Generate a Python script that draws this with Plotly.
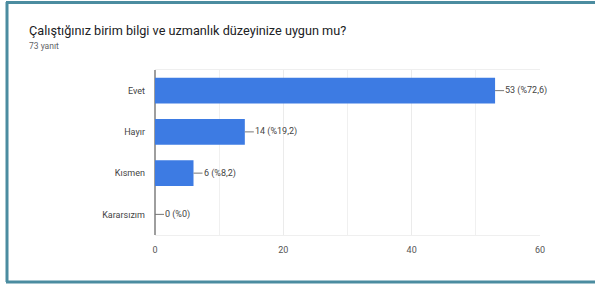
import plotly.graph_objects as go

categories = ["Evet", "Hayır", "Kısmen", "Kararsızım"]
counts = [53, 14, 6, 0]
labels = ["53 (%72,6)", "14 (%19,2)", "6 (%8,2)", "0 (%0)"]
x_ticks = [0, 20, 40, 60]

title_text = "Çalıştığınız birim bilgi ve uzmanlık düzeyinize uygun mu?"
subtitle_text = "73 yanıt"

W, H = 595, 284
PW, PH = 385, 165
ML, MT = 155, 70
MR = W - ML - PW
MB = H - MT - PH

def px_x(p):
    return (p - ML) / PW

def px_y(p):
    return (MT + PH - p) / PH

fig = go.Figure()
fig.add_trace(go.Bar(
    x=counts, y=categories, orientation="h",
    marker=dict(color="#3d7be3", line=dict(width=0)),
    hoverinfo="skip",
))

for c, v, t in zip(categories, counts, labels):
    fig.add_annotation(
        x=v, y=c, xref="x", yref="y", text=t,
        showarrow=True, arrowhead=0, arrowwidth=1, arrowcolor="#777",
        ax=9, ay=0, xanchor="left", standoff=0, startstandoff=0,
        font=dict(family="Roboto, Arial", size=9, color="#444"),
        borderpad=0,
    )

# title & subtitle
fig.add_annotation(x=px_x(27), y=px_y(30), xref="paper", yref="paper",
                   text=title_text, showarrow=False, xanchor="left", yanchor="middle",
                   font=dict(family="Roboto, Arial", size=12.7, color="#202124"))
fig.add_annotation(x=px_x(27), y=px_y(46), xref="paper", yref="paper",
                   text=subtitle_text, showarrow=False, xanchor="left", yanchor="middle",
                   font=dict(family="Roboto, Arial", size=8.5, color="#5f6368"))

# outer frame (left, top, bottom edges)
frame = dict(color="#4b8ca0", width=3)
fig.add_shape(type="line", xref="paper", yref="paper", x0=px_x(7), x1=px_x(7),
              y0=px_y(2), y1=px_y(282), line=frame)
fig.add_shape(type="line", xref="paper", yref="paper", x0=px_x(6), x1=px_x(595),
              y0=px_y(2.5), y1=px_y(2.5), line=frame)
fig.add_shape(type="line", xref="paper", yref="paper", x0=px_x(6), x1=px_x(595),
              y0=px_y(282), y1=px_y(282), line=frame)

fig.update_layout(
    width=W, height=H,
    margin=dict(l=ML, r=MR, t=MT, b=MB),
    paper_bgcolor="white", plot_bgcolor="white",
    showlegend=False, bargap=0.38,
    xaxis=dict(range=[0, 60], tickvals=x_ticks, showgrid=True, gridcolor="#ebebeb",
               minor=dict(dtick=10, showgrid=True, gridcolor="#f0f0f0"),
               zeroline=True, zerolinecolor="#9e9e9e", zerolinewidth=1.5,
               showline=True, mirror=True, linecolor="#efefef", linewidth=1,
               ticks="", ticklabelstandoff=6,
               tickfont=dict(family="Roboto, Arial", size=9, color="#555")),
    yaxis=dict(categoryorder="array", categoryarray=categories[::-1],
               showgrid=False, ticks="", ticklabelstandoff=9,
               tickfont=dict(family="Roboto, Arial", size=9, color="#444")),
)

fig.write_html("out.html", config={"displayModeBar": False, "staticPlot": True},
               post_script="document.body.style.margin='0';document.body.style.overflow='hidden';"
                           "document.documentElement.style.overflow='hidden';")
